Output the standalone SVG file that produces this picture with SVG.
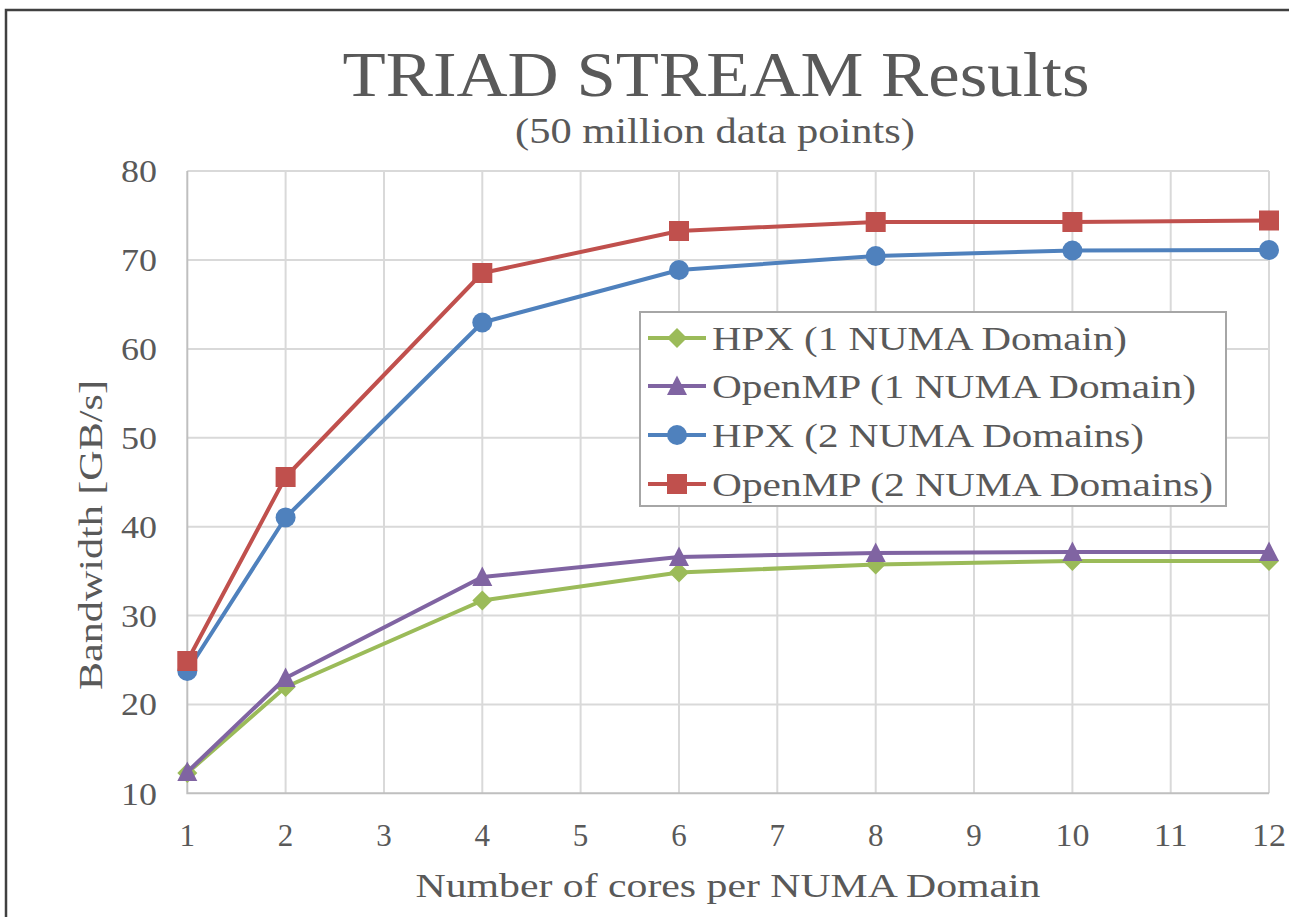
<svg xmlns="http://www.w3.org/2000/svg" width="1289" height="917" viewBox="0 0 1289 917">
  <style>
    text { font-family: "Liberation Serif", "DejaVu Serif", serif; fill: #595959; }
    .grid { stroke: #d9d9d9; stroke-width: 2; fill: none; }
    .axis { stroke: #bfbfbf; stroke-width: 2; fill: none; }
    .tick { font-size: 31px; }
    .ytick { text-anchor: end; }
    .xtick { text-anchor: middle; }
    .legtext { font-size: 34px; }
    .s-hpx1 { stroke: #9bbb59; fill: none; stroke-width: 4; stroke-linejoin: round; }
    .s-omp1 { stroke: #8064a2; fill: none; stroke-width: 4; stroke-linejoin: round; }
    .s-hpx2 { stroke: #4f81bd; fill: none; stroke-width: 4; stroke-linejoin: round; }
    .s-omp2 { stroke: #c0504d; fill: none; stroke-width: 4; stroke-linejoin: round; }
  </style>
  <defs>
    <path id="m-diamond" d="M0,-10 L10,0 L0,10 L-10,0 Z" fill="#9bbb59"/>
    <path id="m-triangle" d="M0,-10.5 L10,9 L-10,9 Z" fill="#8064a2"/>
    <circle id="m-circle" r="10" fill="#4f81bd"/>
    <rect id="m-square" x="-10" y="-10" width="20" height="20" fill="#c0504d"/>
  </defs>

  <rect width="1289" height="917" fill="#ffffff"/>
  <!-- outer frame -->
  <path d="M6,917 V10 H1289" fill="none" stroke="#404040" stroke-width="2.5"/>

  <!-- titles -->
  <text x="716" y="96" font-size="64" text-anchor="middle" textLength="747" lengthAdjust="spacingAndGlyphs">TRIAD STREAM Results</text>
  <text x="715" y="143" font-size="35" text-anchor="middle" textLength="400" lengthAdjust="spacingAndGlyphs">(50 million data points)</text>

  <!-- grid -->
  <g id="grid">
    <path class="grid" d="M187.3,171.1 H1269 M187.3,260 H1269 M187.3,348.9 H1269 M187.3,437.8 H1269 M187.3,526.7 H1269 M187.3,615.5 H1269 M187.3,704.4 H1269"/>
    <path class="grid" d="M285.6,171.1 V793.3 M384,171.1 V793.3 M482.3,171.1 V793.3 M580.6,171.1 V793.3 M679,171.1 V793.3 M777.3,171.1 V793.3 M875.7,171.1 V793.3 M974,171.1 V793.3 M1072.4,171.1 V793.3 M1170.7,171.1 V793.3 M1269,171.1 V793.3"/>
    <path class="axis" d="M187.3,171.1 V793.3 H1269"/>
  </g>

  <!-- y tick labels -->
  <g id="y-axis">
    <text class="tick ytick" x="157" y="182" textLength="36" lengthAdjust="spacingAndGlyphs">80</text>
    <text class="tick ytick" x="157" y="271" textLength="36" lengthAdjust="spacingAndGlyphs">70</text>
    <text class="tick ytick" x="157" y="360" textLength="36" lengthAdjust="spacingAndGlyphs">60</text>
    <text class="tick ytick" x="157" y="449" textLength="36" lengthAdjust="spacingAndGlyphs">50</text>
    <text class="tick ytick" x="157" y="538" textLength="36" lengthAdjust="spacingAndGlyphs">40</text>
    <text class="tick ytick" x="157" y="627" textLength="36" lengthAdjust="spacingAndGlyphs">30</text>
    <text class="tick ytick" x="157" y="715" textLength="36" lengthAdjust="spacingAndGlyphs">20</text>
    <text class="tick ytick" x="157" y="805" textLength="36" lengthAdjust="spacingAndGlyphs">10</text>
    <text x="102" y="535" font-size="34" text-anchor="middle" transform="rotate(-90 102 535)" textLength="310" lengthAdjust="spacingAndGlyphs">Bandwidth [GB/s]</text>
  </g>

  <!-- x tick labels -->
  <g id="x-axis">
    <text class="tick xtick" x="187.3" y="846">1</text>
    <text class="tick xtick" x="285.6" y="846">2</text>
    <text class="tick xtick" x="384" y="846">3</text>
    <text class="tick xtick" x="482.3" y="846">4</text>
    <text class="tick xtick" x="580.6" y="846">5</text>
    <text class="tick xtick" x="679" y="846">6</text>
    <text class="tick xtick" x="777.3" y="846">7</text>
    <text class="tick xtick" x="875.7" y="846">8</text>
    <text class="tick xtick" x="974" y="846">9</text>
    <text class="tick xtick" x="1072.4" y="846" textLength="34" lengthAdjust="spacingAndGlyphs">10</text>
    <text class="tick xtick" x="1170.7" y="846" textLength="34" lengthAdjust="spacingAndGlyphs">11</text>
    <text class="tick xtick" x="1269" y="846" textLength="34" lengthAdjust="spacingAndGlyphs">12</text>
    <text x="728" y="897" font-size="34" text-anchor="middle" textLength="625" lengthAdjust="spacingAndGlyphs">Number of cores per NUMA Domain</text>
  </g>

  <!-- data series, drawn in series order -->
  <g id="series-hpx-1numa">
    <polyline class="s-hpx1" points="187.3,773 285.6,687 482.3,600.5 679,572.5 875.7,564.5 1072.4,561 1269,561"/>
    <use href="#m-diamond" x="187.3" y="773"/>
    <use href="#m-diamond" x="285.6" y="687"/>
    <use href="#m-diamond" x="482.3" y="600.5"/>
    <use href="#m-diamond" x="679" y="572.5"/>
    <use href="#m-diamond" x="875.7" y="564.5"/>
    <use href="#m-diamond" x="1072.4" y="561"/>
    <use href="#m-diamond" x="1269" y="561"/>
  </g>
  <g id="series-openmp-1numa">
    <polyline class="s-omp1" points="187.3,772 285.6,678 482.3,577 679,557 875.7,553 1072.4,552 1269,552"/>
    <use href="#m-triangle" x="187.3" y="772"/>
    <use href="#m-triangle" x="285.6" y="678"/>
    <use href="#m-triangle" x="482.3" y="577"/>
    <use href="#m-triangle" x="679" y="557"/>
    <use href="#m-triangle" x="875.7" y="553"/>
    <use href="#m-triangle" x="1072.4" y="552"/>
    <use href="#m-triangle" x="1269" y="552"/>
  </g>
  <g id="series-hpx-2numa">
    <polyline class="s-hpx2" points="187.3,671 285.6,517.5 482.3,322.5 679,270 875.7,256 1072.4,250.5 1269,250"/>
    <use href="#m-circle" x="187.3" y="671"/>
    <use href="#m-circle" x="285.6" y="517.5"/>
    <use href="#m-circle" x="482.3" y="322.5"/>
    <use href="#m-circle" x="679" y="270"/>
    <use href="#m-circle" x="875.7" y="256"/>
    <use href="#m-circle" x="1072.4" y="250.5"/>
    <use href="#m-circle" x="1269" y="250"/>
  </g>
  <g id="series-openmp-2numa">
    <polyline class="s-omp2" points="187.3,661 285.6,477 482.3,273 679,231 875.7,222 1072.4,222 1269,220.5"/>
    <use href="#m-square" x="187.3" y="661"/>
    <use href="#m-square" x="285.6" y="477"/>
    <use href="#m-square" x="482.3" y="273"/>
    <use href="#m-square" x="679" y="231"/>
    <use href="#m-square" x="875.7" y="222"/>
    <use href="#m-square" x="1072.4" y="222"/>
    <use href="#m-square" x="1269" y="220.5"/>
  </g>

  <!-- legend -->
  <g id="legend">
    <rect x="640" y="312" width="586" height="194" fill="#ffffff" stroke="#a6a6a6" stroke-width="2"/>
    <path class="s-hpx1" d="M648,338 H706"/>
    <use href="#m-diamond" x="677" y="338"/>
    <text class="legtext" x="712" y="350" textLength="415" lengthAdjust="spacingAndGlyphs">HPX (1 NUMA Domain)</text>
    <path class="s-omp1" d="M648,386 H706"/>
    <use href="#m-triangle" x="677" y="386"/>
    <text class="legtext" x="712" y="398" textLength="484" lengthAdjust="spacingAndGlyphs">OpenMP (1 NUMA Domain)</text>
    <path class="s-hpx2" d="M648,435 H706"/>
    <use href="#m-circle" x="677" y="435"/>
    <text class="legtext" x="712" y="447" textLength="432" lengthAdjust="spacingAndGlyphs">HPX (2 NUMA Domains)</text>
    <path class="s-omp2" d="M648,484 H706"/>
    <use href="#m-square" x="677" y="484"/>
    <text class="legtext" x="712" y="496" textLength="501" lengthAdjust="spacingAndGlyphs">OpenMP (2 NUMA Domains)</text>
  </g>
</svg>
